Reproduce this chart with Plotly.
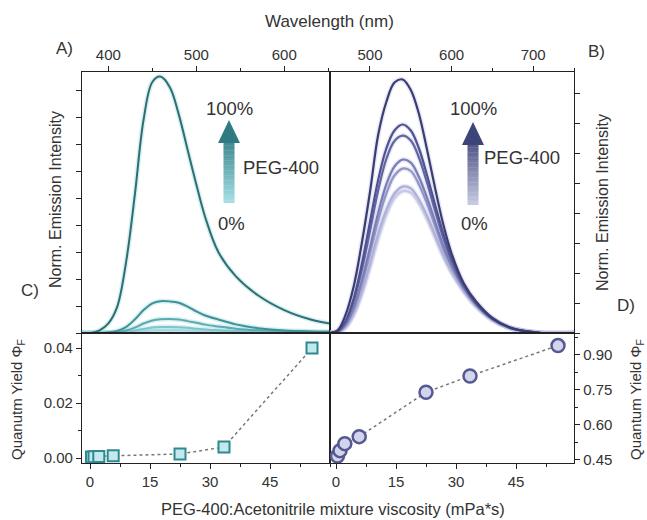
import plotly.graph_objects as go

# ---------------- data ----------------
wl_a = [370, 380, 390, 400, 410, 420, 430, 440, 450, 459, 470, 480, 490, 500, 510, 525, 545, 570, 600, 630, 652]
spec_a = [
    [0, 0, 0.1, 0.36, 0.97, 2.6, 5.1, 7.9, 9.3, 9.5, 9.1, 8.1, 6.8, 5.5, 4.3, 3.0, 2.1, 1.4, 0.85, 0.5, 0.35],
    [0, 0, 0, 0.02, 0.08, 0.22, 0.5, 0.85, 1.1, 1.18, 1.17, 1.12, 0.98, 0.8, 0.65, 0.5, 0.32, 0.18, 0.09, 0.06, 0.05],
    [0, 0, 0, 0.01, 0.03, 0.09, 0.2, 0.35, 0.46, 0.51, 0.52, 0.5, 0.44, 0.38, 0.31, 0.24, 0.16, 0.1, 0.06, 0.04, 0.03],
    [0, 0, 0, 0, 0.01, 0.04, 0.09, 0.15, 0.2, 0.22, 0.22, 0.21, 0.19, 0.16, 0.13, 0.1, 0.07, 0.05, 0.03, 0.02, 0.02],
    [0, 0, 0, 0, 0, 0.02, 0.04, 0.07, 0.09, 0.1, 0.1, 0.1, 0.09, 0.08, 0.07, 0.05, 0.04, 0.03, 0.02, 0.01, 0.01],
    [0, 0, 0, 0, 0, 0.01, 0.02, 0.04, 0.05, 0.05, 0.05, 0.05, 0.05, 0.04, 0.04, 0.03, 0.02, 0.02, 0.01, 0.01, 0.01],
]
colors_a = ["#2f6e72", "#3f9197", "#5caab0", "#7fc4ca", "#a2d9dd", "#c3e9ec"]

wl_b = [450, 460, 470, 480, 490, 500, 510, 520, 530, 540, 550, 560, 570, 580, 590, 600, 615, 630, 650, 670, 690, 710, 750]
spec_b = [
    [0, 0.08, 0.6, 1.55, 3.0, 4.7, 6.6, 7.7, 8.35, 8.45, 8.1, 7.3, 6.1, 4.8, 3.6, 2.65, 1.65, 1.05, 0.5, 0.2, 0.06, 0.0, 0],
    [0, 0.05, 0.4, 1.15, 2.3, 3.7, 5.1, 6.15, 6.75, 6.95, 6.75, 6.15, 5.25, 4.25, 3.3, 2.5, 1.6, 1.0, 0.48, 0.19, 0.06, 0, 0],
    [0, 0.04, 0.35, 1.05, 2.1, 3.4, 4.75, 5.8, 6.4, 6.58, 6.42, 5.85, 5.0, 4.05, 3.15, 2.4, 1.55, 0.98, 0.47, 0.19, 0.06, 0, 0],
    [0, 0.03, 0.28, 0.85, 1.75, 2.85, 4.0, 4.95, 5.55, 5.78, 5.68, 5.2, 4.5, 3.7, 2.9, 2.25, 1.5, 0.95, 0.46, 0.19, 0.06, 0, 0],
    [0, 0.03, 0.25, 0.78, 1.62, 2.65, 3.75, 4.65, 5.25, 5.48, 5.4, 4.95, 4.3, 3.55, 2.8, 2.2, 1.47, 0.93, 0.45, 0.18, 0.06, 0, 0],
    [0, 0.02, 0.2, 0.65, 1.38, 2.3, 3.3, 4.1, 4.65, 4.88, 4.82, 4.45, 3.9, 3.25, 2.6, 2.05, 1.4, 0.9, 0.44, 0.18, 0.06, 0, 0],
    [0, 0.02, 0.18, 0.6, 1.3, 2.2, 3.15, 3.95, 4.5, 4.73, 4.68, 4.33, 3.8, 3.18, 2.55, 2.02, 1.38, 0.88, 0.43, 0.18, 0.06, 0, 0],
]
colors_b = ["#3b3d70", "#4f5290", "#6265a2", "#7b7eb6", "#9295c6", "#aeb0d8", "#c7c8e6"]

visc_c = [0.37, 1.0, 2.2, 5.8, 22.5, 33.5, 55.5]
qy_c = [0.0004, 0.0005, 0.0006, 0.0008, 0.0015, 0.004, 0.040]
visc_d = [0.37, 1.0, 2.2, 5.8, 22.5, 33.5, 55.5]
qy_d = [0.467, 0.49, 0.52, 0.55, 0.74, 0.81, 0.94]

# ---------------- figure ----------------
W, H = 647, 520
def px(x):
    return x / W
def py(y):
    return 1 - y / H

FONT = "Liberation Sans, Arial, sans-serif"
TXT = "#333333"
AX = "#222222"

fig = go.Figure()

# soft halo under the spectra
for vals in spec_a:
    fig.add_trace(go.Scatter(x=wl_a, y=vals, mode="lines", line=dict(color="rgba(150,215,222,0.35)", width=5, shape="spline"),
                             xaxis="x", yaxis="y", showlegend=False, hoverinfo="skip"))
for vals, col in reversed(list(zip(spec_a, colors_a))):
    fig.add_trace(go.Scatter(x=wl_a, y=vals, mode="lines", line=dict(color=col, width=2, shape="spline"),
                             xaxis="x", yaxis="y", showlegend=False, hoverinfo="skip"))
for vals in spec_b:
    fig.add_trace(go.Scatter(x=wl_b, y=vals, mode="lines", line=dict(color="rgba(190,192,228,0.35)", width=5, shape="spline"),
                             xaxis="x2", yaxis="y2", showlegend=False, hoverinfo="skip"))
for vals, col in reversed(list(zip(spec_b, colors_b))):
    fig.add_trace(go.Scatter(x=wl_b, y=vals, mode="lines", line=dict(color=col, width=2.2, shape="spline"),
                             xaxis="x2", yaxis="y2", showlegend=False, hoverinfo="skip"))

fig.add_trace(go.Scatter(x=visc_c, y=qy_c, mode="lines+markers",
                         line=dict(color="#777777", width=1.5, dash="dot"),
                         marker=dict(symbol="square", size=11, color="#c4e9ec",
                                     line=dict(color="#2e8a90", width=2)),
                         xaxis="x3", yaxis="y3", showlegend=False))
fig.add_trace(go.Scatter(x=visc_d, y=qy_d, mode="lines+markers",
                         line=dict(color="#777777", width=1.5, dash="dot"),
                         marker=dict(symbol="circle", size=13, color="#d3d5ee",
                                     line=dict(color="#55598f", width=2.5)),
                         xaxis="x4", yaxis="y4", showlegend=False))

xl, xm, xr = px(82), px(330), px(574)
yt, ym, yb = py(72), py(333), py(463)

common = dict(showline=True, linecolor=AX, linewidth=1.3, mirror=True, showgrid=False, zeroline=False,
              automargin=False,
              ticks="outside", ticklen=5, tickwidth=1.2, tickcolor=AX,
              tickfont=dict(family=FONT, size=15, color=TXT))
minor = dict(ticks="outside", ticklen=3, tickwidth=1, tickcolor=AX, showgrid=False)

fig.update_layout(
    template="none",
    width=W, height=H, margin=dict(l=0, r=0, t=0, b=0, autoexpand=False),
    paper_bgcolor="white", plot_bgcolor="white",
    font=dict(family=FONT, color=TXT),
    xaxis=dict(domain=[xl, xm], anchor="y", side="top", range=[370, 652], tickvals=[400, 500, 600],
               minor=dict(dtick=50, tick0=0, **minor), **common),
    yaxis=dict(domain=[ym, yt], anchor="x", range=[0, 9.67], dtick=1, showticklabels=False, **common),
    xaxis2=dict(domain=[xm, xr], anchor="y2", side="top", range=[451, 750], tickvals=[500, 600, 700],
                minor=dict(dtick=50, tick0=0, **minor), **common),
    yaxis2=dict(domain=[ym, yt], anchor="x2", side="right", range=[0, 8.7], dtick=1, showticklabels=False, **common),
    xaxis3=dict(domain=[xl, xm], anchor="y3", range=[-2, 60], tickvals=[0, 15, 30, 45],
                minor=dict(dtick=7.5, tick0=0, **minor), **common),
    yaxis3=dict(domain=[yb, ym], anchor="x3", range=[-0.0018, 0.0455], tickvals=[0, 0.02, 0.04],
                tickformat=".2f", minor=dict(dtick=0.01, tick0=0, **minor), **common),
    xaxis4=dict(domain=[xm, xr], anchor="y4", range=[-1.5, 59.5], tickvals=[0, 15, 30, 45],
                minor=dict(dtick=7.5, tick0=0, **minor), **common),
    yaxis4=dict(domain=[yb, ym], anchor="x4", side="right", range=[0.437, 0.994], tickvals=[0.45, 0.6, 0.75, 0.9],
                tickformat=".2f", minor=dict(dtick=0.075, tick0=0, **minor), **common),
)

ann = []
def text(x, y, s, size=13, angle=0, xanchor="center"):
    ann.append(dict(x=px(x), y=py(y), xref="paper", yref="paper", text=s, showarrow=False,
                    font=dict(family=FONT, size=size, color=TXT), textangle=angle,
                    xanchor=xanchor, yanchor="middle"))

text(330, 22, "Wavelength (nm)", 17)
text(333, 509, "PEG-400:Acetonitrile mixture viscosity (mPa*s)", 16.5)
text(56, 200, "Norm. Emission Intensity", 16, -90)
text(603, 203, "Norm. Emission Intensity", 16, -90)
text(17, 400, "Quanutm Yield Φ<sub>F</sub>", 15, -90)
text(636, 400, "Quantum Yield Φ<sub>F</sub>", 15, -90)
text(64, 48, "A)", 17)
text(596, 52, "B)", 17)
text(30, 290, "C)", 17)
text(626, 305, "D)", 17)
text(229, 108, "100%", 18.5)
text(231, 223, "0%", 18.5)
text(281, 168, "PEG-400", 18.5)
text(473, 108, "100%", 18.5)
text(474, 223, "0%", 18.5)
text(522, 157, "PEG-400", 18.5)
fig.update_layout(annotations=ann)

# gradient arrows
def hexrgb(h):
    h = h.lstrip("#")
    return tuple(int(h[i:i + 2], 16) for i in (0, 2, 4))
def mix(c1, c2, t):
    a, b = hexrgb(c1), hexrgb(c2)
    return "rgb(%d,%d,%d)" % tuple(round(a[i] + (b[i] - a[i]) * t) for i in range(3))

shapes = []
def arrow(cx, ytip, yhead, ybot, c_bot, c_top, half_shaft=5.5, half_head=11):
    n = 24
    for i in range(n):
        y0 = ybot - (ybot - yhead) * i / n
        y1 = ybot - (ybot - yhead) * (i + 1) / n
        shapes.append(dict(type="rect", xref="paper", yref="paper",
                           x0=px(cx - half_shaft), x1=px(cx + half_shaft), y0=py(y0), y1=py(y1 - 0.3),
                           line=dict(width=0), fillcolor=mix(c_bot, c_top, (i + 0.5) / n * 0.85)))
    shapes.append(dict(type="path", xref="paper", yref="paper",
                       path="M %f %f L %f %f L %f %f Z" % (px(cx - half_head), py(yhead), px(cx + half_head), py(yhead),
                                                           px(cx), py(ytip)),
                       line=dict(width=0), fillcolor=c_top))

arrow(229, 120, 143, 203, "#a6e0e6", "#2e7c82")
arrow(473, 122, 145, 205, "#c9cce4", "#3d4478")
fig.update_layout(shapes=shapes)

fig.write_html("out.html", config={"displayModeBar": False},
               post_script="document.body.style.margin='0';document.body.style.padding='0';")
